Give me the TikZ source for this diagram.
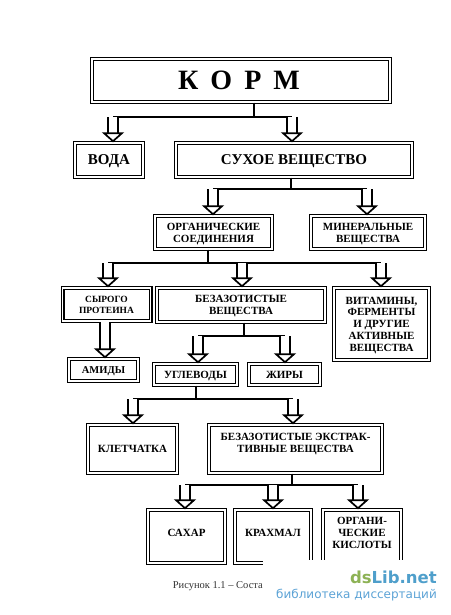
\documentclass[tikz,border=0pt]{standalone}
\usepackage{fontspec}
\setmainfont{Liberation Serif}
\newfontfamily\logofont{DejaVu Sans}
\usetikzlibrary{arrows.meta, positioning, calc}
\definecolor{logogreen}{HTML}{8DB255}
\definecolor{logoblue}{HTML}{4F9FCB}
\definecolor{logolight}{HTML}{5CA3D6}

\begin{document}
\begin{tikzpicture}[
  x=1pt, y=-1pt,
  every node/.style={align=center},
  framebox/.style={draw, line width=1.3pt, double, double distance=1.4pt, fill=white, inner sep=0pt, text depth=0pt, font=\bfseries\fontsize{11}{12}\selectfont},
  trunk/.style={line width=1.8pt},
  blockarrow/.style={line width=1.7pt, double, double distance=8pt, -{Triangle[open, fill=white, length=10pt, width=22pt]}}
]
  \useasboundingbox (0,0) rectangle (450,615);

  \node[framebox, minimum width=298pt, minimum height=43pt, font=\bfseries\fontsize{28}{28}\selectfont] (korm) at (241,80.5) {К\hspace{12pt}О\hspace{12pt}Р\hspace{12pt}М\hspace*{4pt}};

  \node[framebox, minimum width=68pt, minimum height=34pt, font=\bfseries\fontsize{15}{18}\selectfont] (voda) at (109,160) {ВОДА};
  \node[framebox, minimum width=236pt, minimum height=34pt, font=\bfseries\fontsize{15}{18}\selectfont] (sukhoe) at (294,160) {СУХОЕ ВЕЩЕСТВО};

  \node[framebox, minimum width=117pt, minimum height=33pt] (organ) at (213.5,232.5) {ОРГАНИЧЕСКИЕ\\СОЕДИНЕНИЯ};
  \node[framebox, minimum width=114pt, minimum height=33pt] (miner) at (368,232.5) {МИНЕРАЛЬНЫЕ\\ВЕЩЕСТВА};

  \node[framebox, minimum width=88pt, minimum height=33pt, font=\bfseries\fontsize{9.5}{11}\selectfont] (protein) at (106.5,304.5) {СЫРОГО\\ПРОТЕИНА};
  \node[framebox, minimum width=168pt, minimum height=34pt, text depth=-3pt] (bezazot) at (241,305) {БЕЗАЗОТИСТЫЕ\\ВЕЩЕСТВА};
  \node[framebox, minimum width=95pt, minimum height=72pt, font=\bfseries\fontsize{11}{11.8}\selectfont] (vitamin) at (381.5,324) {ВИТАМИНЫ,\\ФЕРМЕНТЫ\\И ДРУГИЕ\\АКТИВНЫЕ\\ВЕЩЕСТВА};

  \node[framebox, minimum width=69pt, minimum height=22pt, font=\bfseries\fontsize{10.5}{13}\selectfont] (amidy) at (103.5,370) {АМИДЫ};
  \node[framebox, minimum width=83pt, minimum height=21pt] (uglevod) at (195.5,374.5) {УГЛЕВОДЫ};
  \node[framebox, minimum width=71pt, minimum height=21pt] (zhiry) at (284.5,374.5) {ЖИРЫ};

  \node[framebox, minimum width=89pt, minimum height=48pt] (kletch) at (132.5,449) {КЛЕТЧАТКА};
  \node[framebox, minimum width=173pt, minimum height=48pt, text depth=12pt] (bev) at (295.5,449) {БЕЗАЗОТИСТЫЕ ЭКСТРАК-\\ТИВНЫЕ ВЕЩЕСТВА};

  \node[framebox, minimum width=77pt, minimum height=53pt, text depth=7pt] (sakhar) at (186.5,536.5) {САХАР};
  \node[framebox, minimum width=76pt, minimum height=53pt, text depth=7pt] (krakhmal) at (273,536.5) {КРАХМАЛ};
  \node[framebox, minimum width=78pt, minimum height=53pt, text depth=7pt] (kislota) at (362,536.5) {ОРГАНИ-\\ЧЕСКИЕ\\КИСЛОТЫ};

  % buses
  \coordinate (t1) at (254,117);
  \coordinate (a1) at (113,117);
  \coordinate (a2) at (292,117);
  \draw[trunk] (t1 |- korm.south) -- (t1);
  \draw[trunk] (a1) -- (a2);
  \draw[blockarrow] (a1) -- (a1 |- voda.north);
  \draw[blockarrow] (a2) -- (a2 |- sukhoe.north);

  \coordinate (t2) at (291,189);
  \coordinate (a3) at (213,189);
  \coordinate (a4) at (367,189);
  \draw[trunk] (t2 |- sukhoe.south) -- (t2);
  \draw[trunk] (a3) -- (a4);
  \draw[blockarrow] (a3) -- (a3 |- organ.north);
  \draw[blockarrow] (a4) -- (a4 |- miner.north);

  \coordinate (t3) at (208,263);
  \coordinate (a5) at (108,263);
  \coordinate (a6) at (242,263);
  \coordinate (a7) at (381,263);
  \draw[trunk] (t3 |- organ.south) -- (t3);
  \draw[trunk] (a5) -- (a7);
  \draw[blockarrow] (a5) -- (a5 |- protein.north);
  \draw[blockarrow] (a6) -- (a6 |- bezazot.north);
  \draw[blockarrow] (a7) -- (a7 |- vitamin.north);

  \coordinate (a15) at (105,322);
  \draw[blockarrow] (a15) -- (a15 |- amidy.north);

  \coordinate (t4) at (244,336);
  \coordinate (a8) at (198,336);
  \coordinate (a9) at (285,336);
  \draw[trunk] (t4 |- bezazot.south) -- (t4);
  \draw[trunk] (a8) -- (a9);
  \draw[blockarrow] (a8) -- (a8 |- uglevod.north);
  \draw[blockarrow] (a9) -- (a9 |- zhiry.north);

  \coordinate (t5) at (196,399);
  \coordinate (a10) at (133,399);
  \coordinate (a11) at (293,399);
  \draw[trunk] (t5 |- uglevod.south) -- (t5);
  \draw[trunk] (a10) -- (a11);
  \draw[blockarrow] (a10) -- (a10 |- kletch.north);
  \draw[blockarrow] (a11) -- (a11 |- bev.north);

  \coordinate (t6) at (292,485);
  \coordinate (a12) at (185,485);
  \coordinate (a13) at (273,485);
  \coordinate (a14) at (358,485);
  \draw[trunk] (t6 |- bev.south) -- (t6);
  \draw[trunk] (a12) -- (a14);
  \draw[blockarrow] (a12) -- (a12 |- sakhar.north);
  \draw[blockarrow] (a13) -- (a13 |- krakhmal.north);
  \draw[blockarrow] (a14) -- (a14 |- kislota.north);

  % watermark
  \fill[white] (263,560) rectangle (450,615);
  \node[anchor=base east, inner sep=0pt, font=\fontsize{10.5}{12}\selectfont, text=black!80] (caption) at (263,588) {Рисунок 1.1 -- Соста};
  \node[anchor=base east, inner sep=0pt, font=\logofont\bfseries\fontsize{16.5}{20}\selectfont] (logo) at (437,583) {\textcolor{logogreen}{ds}\textcolor{logoblue}{Lib.net}};
  \node[anchor=base east, inner sep=0pt, font=\logofont\fontsize{12}{14}\selectfont, text=logolight] (logosub) at (437,598) {библиотека диссертаций};
\end{tikzpicture}
\end{document}
